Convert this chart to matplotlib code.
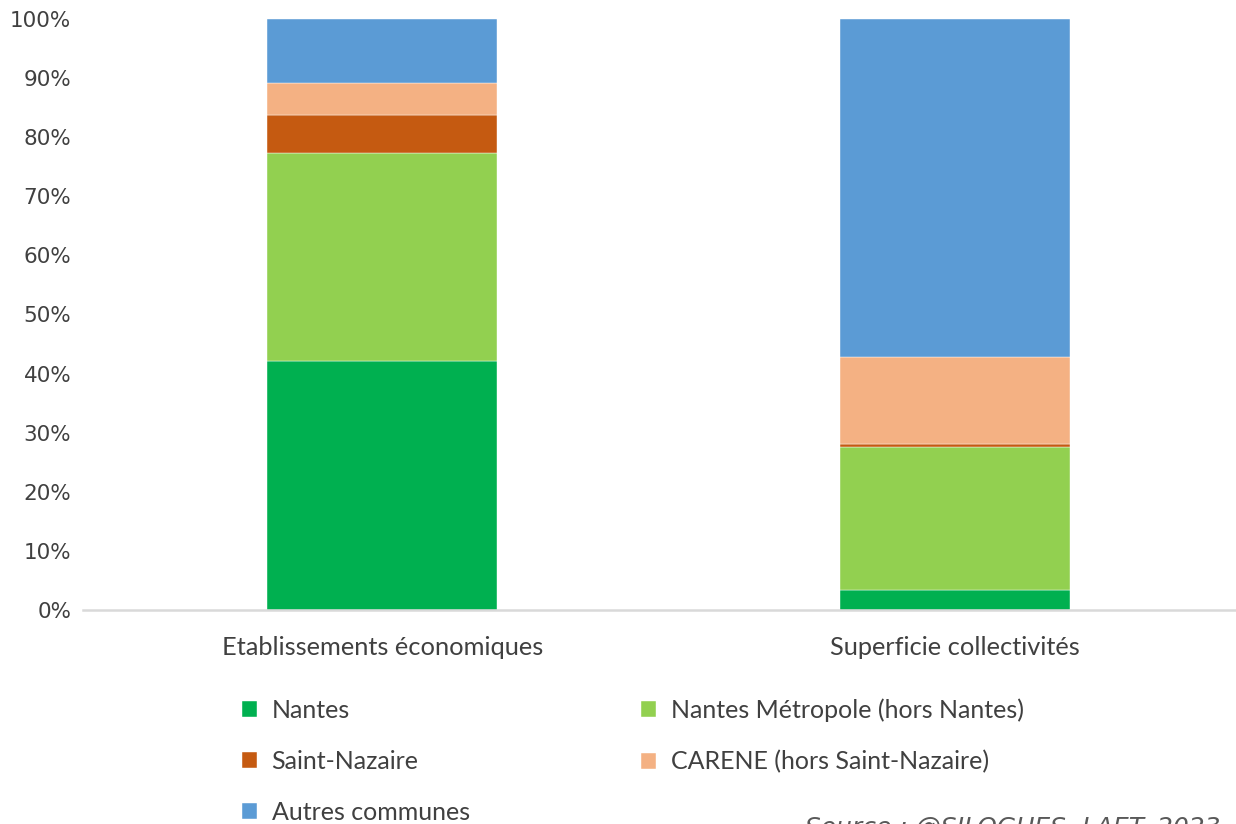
import matplotlib
matplotlib.use("Agg")
import matplotlib.pyplot as plt
import numpy as np

categories = ["Etablissements économiques", "Superficie collectivités"]
series_names = ["Nantes", "Nantes Métropole (hors Nantes)", "Saint-Nazaire",
                "CARENE (hors Saint-Nazaire)", "Autres communes"]
nantes = [42.1, 3.3]
nantes_metropole = [35.2, 24.3]
saint_nazaire = [6.5, 0.5]
carene = [5.4, 14.7]
autres = [10.8, 57.2]
colors = ["#00B050", "#92D050", "#C55A11", "#F4B183", "#5B9BD5"]

series = [nantes, nantes_metropole, saint_nazaire, carene, autres]

fig = plt.figure(figsize=(12.36, 8.24), dpi=100)
ax = fig.add_axes([83 / 1236, 214 / 824, (1236 - 83) / 1236, 591 / 824])

x = np.arange(len(categories))
bottom = np.zeros(len(categories))
handles = []
for name, vals, col in zip(series_names, series, colors):
    b = ax.bar(x, vals, width=0.401, bottom=bottom, color=col, label=name,
               edgecolor="white", linewidth=0.3)
    handles.append(b)
    bottom += np.array(vals)

ax.set_xlim(-0.522, 1.49)
ax.set_ylim(0, 100)
ax.set_yticks(np.arange(0, 101, 10))
ax.set_yticklabels([f"{v}%" for v in range(0, 101, 10)], fontsize=15.5, color="#404040")
ax.set_xticks(x)
ax.set_xticklabels(categories, fontsize=18.3, family="Lato", color="#404040")
ax.tick_params(axis="both", length=0)
ax.tick_params(axis="y", pad=8.5)
ax.tick_params(axis="x", pad=19)

for side in ["top", "right", "left"]:
    ax.spines[side].set_visible(False)
ax.spines["bottom"].set_color("#D9D9D9")
ax.spines["bottom"].set_linewidth(1.8)

# legend laid out row by row: two columns
order = [0, 2, 4, 1, 3]
leg = fig.legend([handles[i] for i in order], [series_names[i] for i in order],
                 ncol=2, loc="upper left", bbox_to_anchor=(224 / 1236, 1 - 681 / 824),
                 frameon=False, prop={"family": "Lato", "size": 18},
                 handlelength=0.6, handleheight=0.6, handletextpad=0.6,
                 labelspacing=1.12, columnspacing=6.85, borderpad=0.2)
for t in leg.get_texts():
    t.set_color("#404040")

fig.text(805 / 1236, -0.02, "Source : @SILOGUES, LAET, 2023", fontsize=18,
         style="italic", color="#595959", va="bottom", ha="left")

fig.savefig("out.png", dpi=100)
